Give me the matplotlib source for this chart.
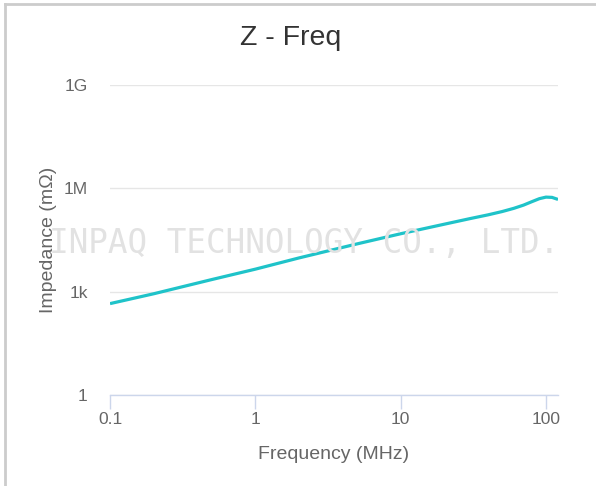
import matplotlib.pyplot as plt
from matplotlib.lines import Line2D
import numpy as np

# Impedance vs frequency
freq_mhz = [0.1, 0.2, 0.5, 1, 2, 5, 10, 20, 30, 40, 50, 60, 70, 80, 90,
            100, 110, 121]
impedance = [450, 870, 2240, 4500, 9550, 24300, 48000, 91000, 132000,
             170000, 212000, 262000, 325000, 410000, 500000, 555000,
             545000, 475000]

y_ticks = [1, 1e3, 1e6, 1e9]
y_labels = ["1", "1k", "1M", "1G"]
x_ticks = [0.1, 1, 10, 100]
x_labels = ["0.1", "1", "10", "100"]

plt.rcParams['font.family'] = ['Liberation Sans', 'DejaVu Sans']

fig = plt.figure(figsize=(5.96, 4.86), dpi=100)
ax = fig.add_axes([0.1846, 0.1872, 0.7517, 0.638])

ax.set_xscale('log')
ax.set_yscale('log')
ax.set_xlim(0.1, 121)
ax.set_ylim(1, 1e9)

# watermark
fig.text(0.51, 0.5, "INPAQ TECHNOLOGY CO., LTD.", family='DejaVu Sans Mono',
         fontsize=23.5, color='#e2e2e2', ha='center', va='center', zorder=0)

ax.plot(freq_mhz, impedance, color='#1fc3c9', lw=2.3, zorder=3,
        solid_capstyle='butt')

ax.set_yticks(y_ticks)
ax.set_yticklabels(y_labels)
ax.set_xticks(x_ticks)
ax.set_xticklabels(x_labels)
ax.minorticks_off()

ax.grid(axis='y', color='#e6e6e6', lw=1)
ax.tick_params(axis='y', length=0, pad=16, labelsize=12.5, labelcolor='#666666')
ax.tick_params(axis='x', length=10, width=1, color='#ccd6eb', pad=2,
               labelsize=12.5, labelcolor='#666666')

for side in ['top', 'right', 'left']:
    ax.spines[side].set_visible(False)
ax.spines['bottom'].set_color('#ccd6eb')
ax.spines['bottom'].set_linewidth(1)
ax.patch.set_alpha(0)

ax.set_xlabel("Frequency (MHz)", fontsize=14, color='#666666', labelpad=14)
ax.set_ylabel("Impedance (mΩ)", fontsize=14, color='#666666', labelpad=5)
fig.text(0.488, 0.922, "Z - Freq", fontsize=20.5, color='#333333',
         ha='center', va='center')

# page border
fig.add_artist(Line2D([0.009, 1], [0.991, 0.991], color='#cccccc', lw=2))
fig.add_artist(Line2D([0.009, 0.009], [0, 0.991], color='#cccccc', lw=2))

fig.savefig("out.png", dpi=100)
